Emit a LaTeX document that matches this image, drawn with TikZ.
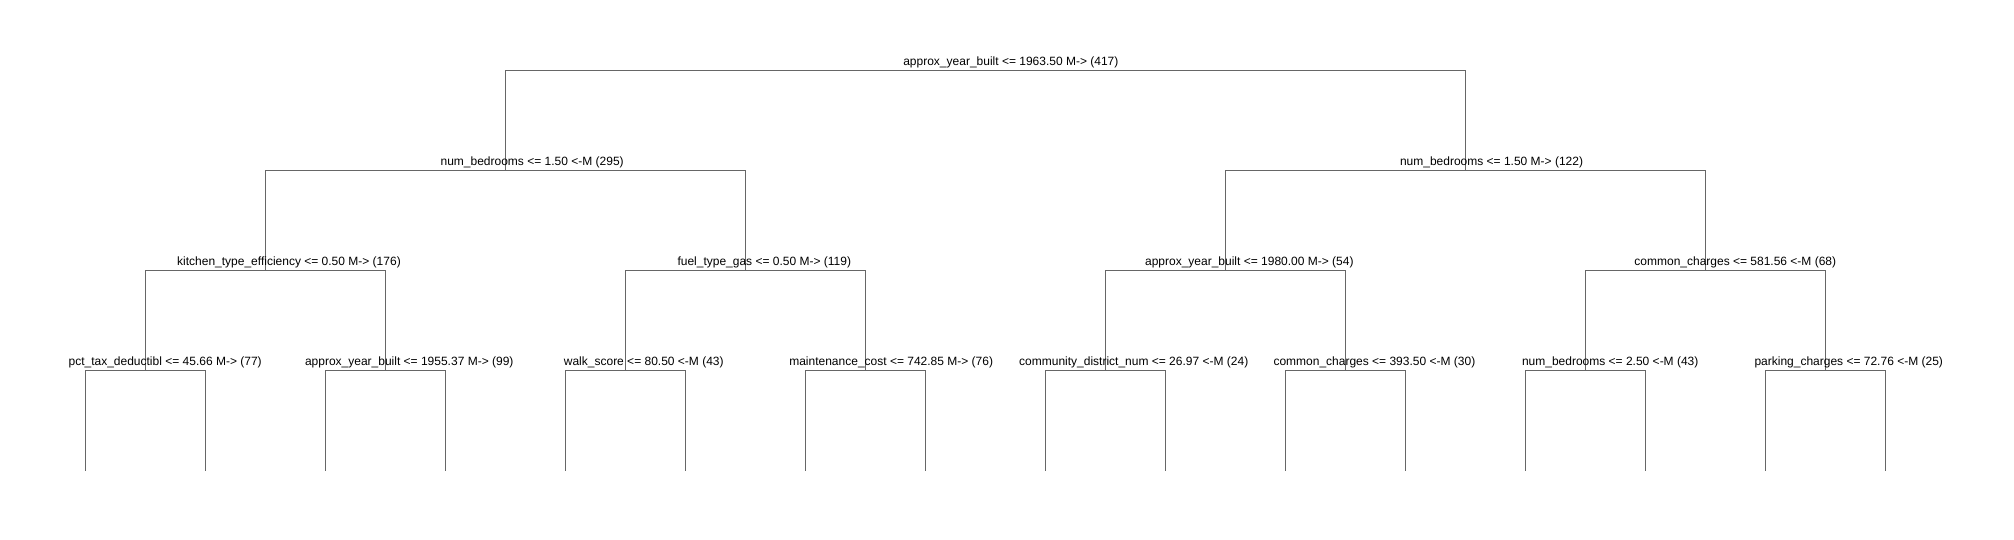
\documentclass[tikz,border=0pt]{standalone}
\usepackage{fontspec}
\setmainfont{Liberation Sans}
\begin{document}
\begin{tikzpicture}[x=1pt,y=-1pt,
  edge/.style={draw={rgb,255:red,102;green,102;blue,102},line width=0.9pt},
  lbl/.style={anchor=base west,inner sep=0pt,outer sep=0pt,font=\fontsize{12}{14}\selectfont,text=black}]
\useasboundingbox[fill=white] (0,0) rectangle (2014,540);
% tree nodes
\coordinate (n) at (985.4,70.5);
\coordinate (n0) at (505.4,170.6);
\coordinate (n1) at (1465.4,170.6);
\coordinate (n00) at (265.4,270.7);
\coordinate (n01) at (745.4,270.7);
\coordinate (n10) at (1225.4,270.7);
\coordinate (n11) at (1705.4,270.7);
\coordinate (n000) at (145.4,370.7);
\coordinate (n001) at (385.4,370.7);
\coordinate (n010) at (625.4,370.7);
\coordinate (n011) at (865.4,370.7);
\coordinate (n100) at (1105.4,370.7);
\coordinate (n101) at (1345.4,370.7);
\coordinate (n110) at (1585.4,370.7);
\coordinate (n111) at (1825.4,370.7);
\coordinate (l0) at (85.4,470.8);
\coordinate (l1) at (205.4,470.8);
\coordinate (l2) at (325.4,470.8);
\coordinate (l3) at (445.4,470.8);
\coordinate (l4) at (565.4,470.8);
\coordinate (l5) at (685.4,470.8);
\coordinate (l6) at (805.4,470.8);
\coordinate (l7) at (925.4,470.8);
\coordinate (l8) at (1045.4,470.8);
\coordinate (l9) at (1165.4,470.8);
\coordinate (l10) at (1285.4,470.8);
\coordinate (l11) at (1405.4,470.8);
\coordinate (l12) at (1525.4,470.8);
\coordinate (l13) at (1645.4,470.8);
\coordinate (l14) at (1765.4,470.8);
\coordinate (l15) at (1885.4,470.8);
% connectors
\draw[edge] (n0) |- (n) -| (n1);
\draw[edge] (n00) |- (n0) -| (n01);
\draw[edge] (n10) |- (n1) -| (n11);
\draw[edge] (n000) |- (n00) -| (n001);
\draw[edge] (n010) |- (n01) -| (n011);
\draw[edge] (n100) |- (n10) -| (n101);
\draw[edge] (n110) |- (n11) -| (n111);
\draw[edge] (l0) |- (n000) -| (l1);
\draw[edge] (l2) |- (n001) -| (l3);
\draw[edge] (l4) |- (n010) -| (l5);
\draw[edge] (l6) |- (n011) -| (l7);
\draw[edge] (l8) |- (n100) -| (l9);
\draw[edge] (l10) |- (n101) -| (l11);
\draw[edge] (l12) |- (n110) -| (l13);
\draw[edge] (l14) |- (n111) -| (l15);
% labels
\node[lbl] (t) at (903.3,65.5) {approx\_year\_built <= 1963.50 M-> (417)};
\node[lbl] (t0) at (440.6,165.6) {num\_bedrooms <= 1.50 <-M (295)};
\node[lbl] (t1) at (1400.0,165.6) {num\_bedrooms <= 1.50 M-> (122)};
\node[lbl] (t00) at (177.2,265.7) {kitchen\_type\_efficiency <= 0.50 M-> (176)};
\node[lbl] (t01) at (677.5,265.7) {fuel\_type\_gas <= 0.50 M-> (119)};
\node[lbl] (t10) at (1145.1,265.7) {approx\_year\_built <= 1980.00 M-> (54)};
\node[lbl] (t11) at (1634.4,265.7) {common\_charges <= 581.56 <-M (68)};
\node[lbl] (t000) at (68.6,365.7) {pct\_tax\_deductibl <= 45.66 M-> (77)};
\node[lbl] (t001) at (305.0,365.7) {approx\_year\_built <= 1955.37 M-> (99)};
\node[lbl] (t010) at (563.9,365.7) {walk\_score <= 80.50 <-M (43)};
\node[lbl] (t011) at (789.3,365.7) {maintenance\_cost <= 742.85 M-> (76)};
\node[lbl] (t100) at (1019.2,365.7) {community\_district\_num <= 26.97 <-M (24)};
\node[lbl] (t101) at (1273.5,365.7) {common\_charges <= 393.50 <-M (30)};
\node[lbl] (t110) at (1522.0,365.7) {num\_bedrooms <= 2.50 <-M (43)};
\node[lbl] (t111) at (1754.5,365.7) {parking\_charges <= 72.76 <-M (25)};
\end{tikzpicture}
\end{document}
